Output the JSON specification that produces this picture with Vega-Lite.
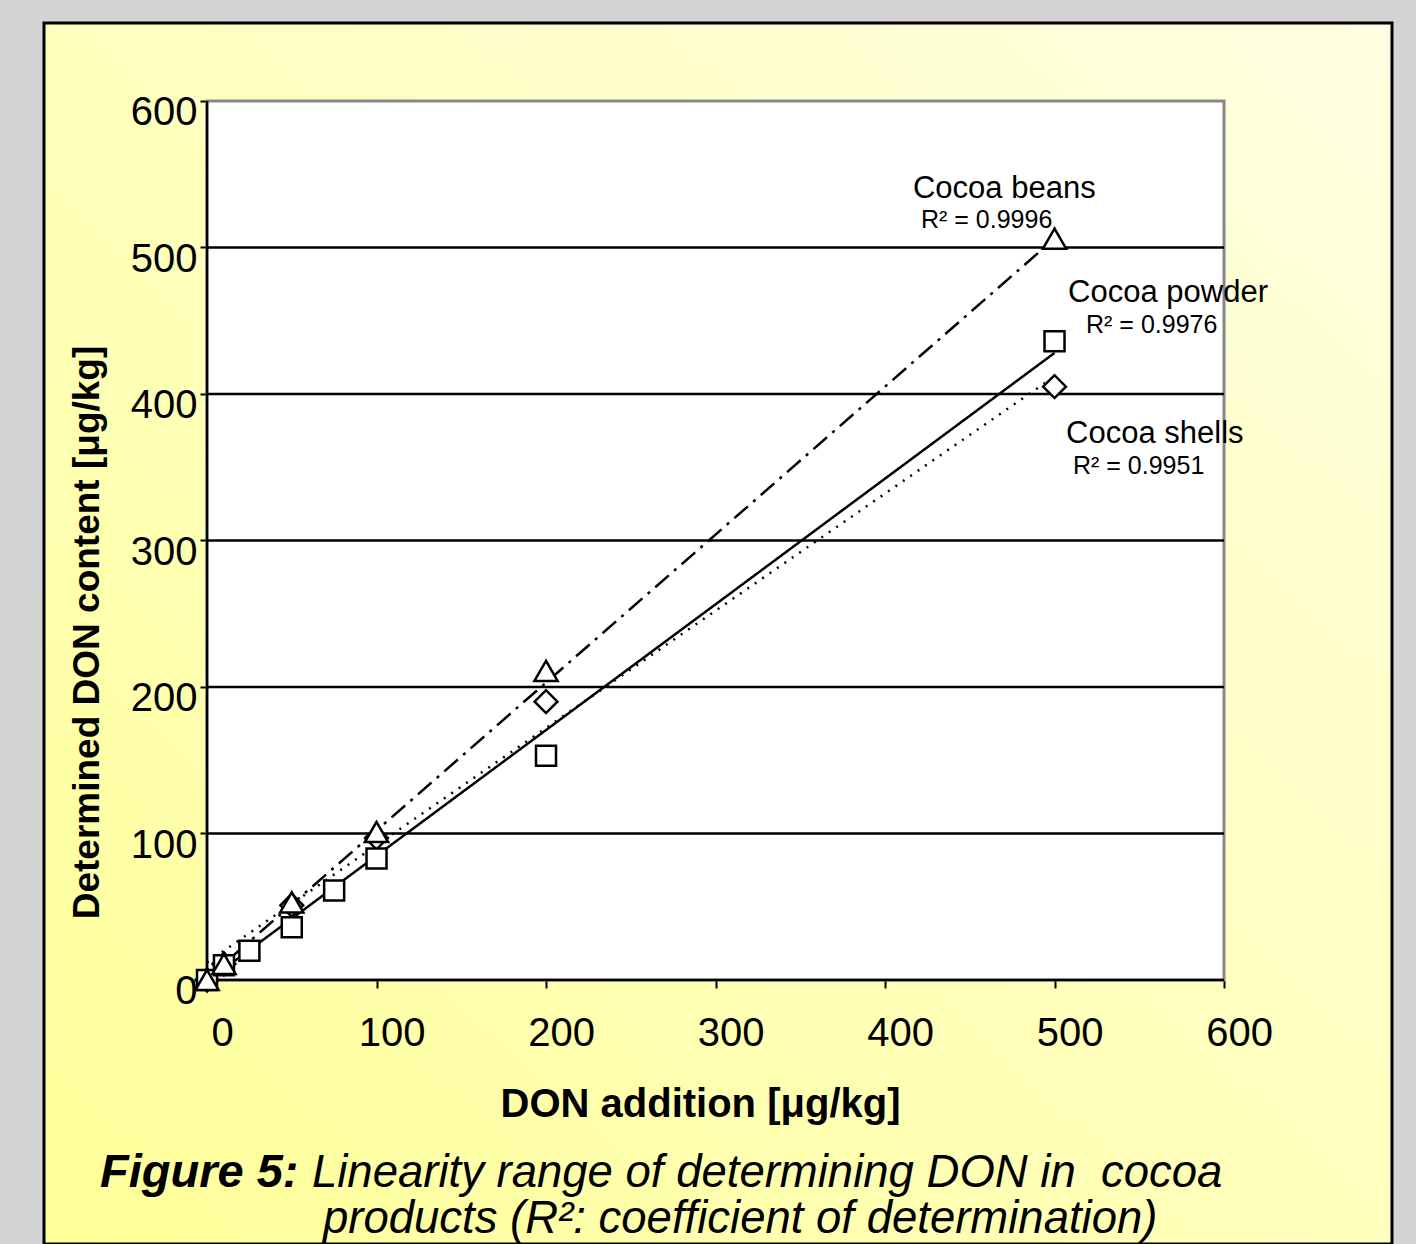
{
  "$schema": "https://vega.github.io/schema/vega-lite/v6.json",
  "width": 1348,
  "height": 1221,
  "autosize": {"type": "none"},
  "padding": {"left": 44, "top": 23, "right": 24, "bottom": 0},
  "background": "#d4d4d4",
  "config": {
    "font": "Liberation Sans",
    "view": {
      "fill": {"gradient": "linear", "x1": 1, "y1": 0, "x2": 0, "y2": 1, "stops": [{"offset": 0, "color": "#ffffe2"}, {"offset": 1, "color": "#ffff99"}]},
      "stroke": "#000000",
      "strokeWidth": 3
    },
    "axisX": {"domain": false, "grid": false, "offset": -264,
      "ticks": true, "tickSize": 8, "tickWidth": 2, "tickColor": "#000000",
      "labelFontSize": 40, "labelColor": "#000000", "labelPadding": 25, "labelOffset": 15, "labelFlush": false, "labelOverlap": false,
      "titleFontSize": 40, "titleFontWeight": "bold", "titleColor": "#000000",
      "titleX": 656, "titleY": 136, "titleBaseline": "alphabetic", "titleAlign": "center"},
    "axisY": {"domain": false, "grid": false, "offset": -163,
      "ticks": true, "tickSize": 7, "tickWidth": 2, "tickColor": "#000000",
      "labelFontSize": 40, "labelColor": "#000000", "labelPadding": 3, "labelOffset": 12, "labelBaseline": "middle", "labelFlush": false, "labelOverlap": false,
      "titleFontSize": 37, "titleFontWeight": "bold", "titleColor": "#000000",
      "titleX": -109, "titleY": 609, "titleAngle": 270, "titleBaseline": "alphabetic", "titleAlign": "center"}
  },
  "datasets": {
    "pts": [
      {"series": "Cocoa shells", "x": 0, "y": 0},
      {"series": "Cocoa shells", "x": 10, "y": 11},
      {"series": "Cocoa shells", "x": 50, "y": 51},
      {"series": "Cocoa shells", "x": 100, "y": 97},
      {"series": "Cocoa shells", "x": 200, "y": 190},
      {"series": "Cocoa shells", "x": 500, "y": 405},
      {"series": "Cocoa powder", "x": 0, "y": 0},
      {"series": "Cocoa powder", "x": 10, "y": 10},
      {"series": "Cocoa powder", "x": 25, "y": 20},
      {"series": "Cocoa powder", "x": 50, "y": 36},
      {"series": "Cocoa powder", "x": 75, "y": 61},
      {"series": "Cocoa powder", "x": 100, "y": 83},
      {"series": "Cocoa powder", "x": 200, "y": 153},
      {"series": "Cocoa powder", "x": 500, "y": 436},
      {"series": "Cocoa beans", "x": 0, "y": 0},
      {"series": "Cocoa beans", "x": 10, "y": 11},
      {"series": "Cocoa beans", "x": 50, "y": 53},
      {"series": "Cocoa beans", "x": 100, "y": 101},
      {"series": "Cocoa beans", "x": 200, "y": 211},
      {"series": "Cocoa beans", "x": 500, "y": 506}
    ],
    "trend": [
      {"series": "Cocoa beans", "x": 0, "y": 1},
      {"series": "Cocoa beans", "x": 500, "y": 506},
      {"series": "Cocoa powder", "x": 0, "y": -1},
      {"series": "Cocoa powder", "x": 500, "y": 428},
      {"series": "Cocoa shells", "x": 0, "y": 12},
      {"series": "Cocoa shells", "x": 500, "y": 412}
    ],
    "grid": [{"g": 100}, {"g": 200}, {"g": 300}, {"g": 400}, {"g": 500}],
    "names": [
      {"label": "Cocoa beans", "x": 416.5, "y": 533.8},
      {"label": "Cocoa powder", "x": 508, "y": 462.8},
      {"label": "Cocoa shells", "x": 506.8, "y": 366.6}
    ],
    "r2": [
      {"label": "R² = 0.9996", "x": 421.2, "y": 513.3},
      {"label": "R² = 0.9976", "x": 518.6, "y": 441.6},
      {"label": "R² = 0.9951", "x": 510.9, "y": 345.4}
    ],
    "capbold": [{"text": "Figure 5:", "x": -63.1, "y": -141.3}],
    "capital": [
      {"text": "Linearity range of determining DON in\u00a0 cocoa", "x": 61.9, "y": -141.3},
      {"text": "products (R²: coefficient of determination)", "x": 68.4, "y": -172.7}
    ]
  },
  "layer": [
    {
      "data": {"values": [{}]},
      "mark": {"type": "rect", "fill": "#ffffff", "stroke": "#888888", "strokeWidth": 3},
      "encoding": {
        "x": {"datum": 0, "type": "quantitative", "scale": {"domain": [-96.17, 699.1], "nice": false, "zero": false}, "title": "DON addition [μg/kg]", "axis": {"values": [0, 100, 200, 300, 400, 500, 600]}},
        "x2": {"datum": 600},
        "y": {"datum": 0, "type": "quantitative", "scale": {"domain": [-180.2, 653.2], "nice": false, "zero": false}, "title": "Determined DON content [μg/kg]", "axis": {"values": [0, 100, 200, 300, 400, 500, 600]}},
        "y2": {"datum": 600}
      }
    },
    {
      "data": {"name": "grid"},
      "mark": {"type": "rule", "color": "#000000", "strokeWidth": 2.5},
      "encoding": {
        "x": {"datum": 0, "type": "quantitative", "scale": {"domain": [-96.17, 699.1], "nice": false, "zero": false}, "title": "DON addition [μg/kg]", "axis": {"values": [0, 100, 200, 300, 400, 500, 600]}},
        "x2": {"datum": 600},
        "y": {"field": "g", "type": "quantitative", "scale": {"domain": [-180.2, 653.2], "nice": false, "zero": false}, "title": "Determined DON content [μg/kg]", "axis": {"values": [0, 100, 200, 300, 400, 500, 600]}}
      }
    },
    {
      "data": {"values": [{}]},
      "mark": {"type": "rule", "color": "#000000", "strokeWidth": 2.5},
      "encoding": {
        "x": {"datum": 0, "type": "quantitative", "scale": {"domain": [-96.17, 699.1], "nice": false, "zero": false}, "title": "DON addition [μg/kg]", "axis": {"values": [0, 100, 200, 300, 400, 500, 600]}},
        "y": {"datum": 0, "type": "quantitative", "scale": {"domain": [-180.2, 653.2], "nice": false, "zero": false}, "title": "Determined DON content [μg/kg]", "axis": {"values": [0, 100, 200, 300, 400, 500, 600]}},
        "y2": {"datum": 600}
      }
    },
    {
      "data": {"values": [{}]},
      "mark": {"type": "rule", "color": "#000000", "strokeWidth": 2.5},
      "encoding": {
        "x": {"datum": 0, "type": "quantitative", "scale": {"domain": [-96.17, 699.1], "nice": false, "zero": false}, "title": "DON addition [μg/kg]", "axis": {"values": [0, 100, 200, 300, 400, 500, 600]}},
        "x2": {"datum": 600},
        "y": {"datum": 0, "type": "quantitative", "scale": {"domain": [-180.2, 653.2], "nice": false, "zero": false}, "title": "Determined DON content [μg/kg]", "axis": {"values": [0, 100, 200, 300, 400, 500, 600]}}
      }
    },
    {
      "data": {"name": "trend"},
      "mark": {"type": "line", "color": "#000000", "strokeWidth": 2.5},
      "encoding": {
        "x": {"field": "x", "type": "quantitative", "scale": {"domain": [-96.17, 699.1], "nice": false, "zero": false}, "title": "DON addition [μg/kg]", "axis": {"values": [0, 100, 200, 300, 400, 500, 600]}},
        "y": {"field": "y", "type": "quantitative", "scale": {"domain": [-180.2, 653.2], "nice": false, "zero": false}, "title": "Determined DON content [μg/kg]", "axis": {"values": [0, 100, 200, 300, 400, 500, 600]}},
        "detail": {"field": "series"},
        "strokeDash": {"field": "series", "type": "nominal", "legend": null,
          "scale": {"domain": ["Cocoa beans", "Cocoa powder", "Cocoa shells"], "range": [[18, 7, 3, 7], [1, 0], [2, 7]]}}
      }
    },
    {
      "data": {"name": "pts"},
      "transform": [{"filter": "datum.series === 'Cocoa shells'"}],
      "mark": {"type": "point", "shape": "diamond", "filled": true, "fill": "#ffffff", "stroke": "#000000", "strokeWidth": 2.5, "opacity": 1, "size": 520},
      "encoding": {
        "x": {"field": "x", "type": "quantitative", "scale": {"domain": [-96.17, 699.1], "nice": false, "zero": false}, "title": "DON addition [μg/kg]", "axis": {"values": [0, 100, 200, 300, 400, 500, 600]}},
        "y": {"field": "y", "type": "quantitative", "scale": {"domain": [-180.2, 653.2], "nice": false, "zero": false}, "title": "Determined DON content [μg/kg]", "axis": {"values": [0, 100, 200, 300, 400, 500, 600]}}
      }
    },
    {
      "data": {"name": "pts"},
      "transform": [{"filter": "datum.series === 'Cocoa powder'"}],
      "mark": {"type": "point", "shape": "square", "filled": true, "fill": "#ffffff", "stroke": "#000000", "strokeWidth": 2.5, "opacity": 1, "size": 400},
      "encoding": {
        "x": {"field": "x", "type": "quantitative", "scale": {"domain": [-96.17, 699.1], "nice": false, "zero": false}, "title": "DON addition [μg/kg]", "axis": {"values": [0, 100, 200, 300, 400, 500, 600]}},
        "y": {"field": "y", "type": "quantitative", "scale": {"domain": [-180.2, 653.2], "nice": false, "zero": false}, "title": "Determined DON content [μg/kg]", "axis": {"values": [0, 100, 200, 300, 400, 500, 600]}}
      }
    },
    {
      "data": {"name": "pts"},
      "transform": [{"filter": "datum.series === 'Cocoa beans'"}],
      "mark": {"type": "point", "shape": "triangle-up", "filled": true, "fill": "#ffffff", "stroke": "#000000", "strokeWidth": 2.5, "opacity": 1, "size": 540},
      "encoding": {
        "x": {"field": "x", "type": "quantitative", "scale": {"domain": [-96.17, 699.1], "nice": false, "zero": false}, "title": "DON addition [μg/kg]", "axis": {"values": [0, 100, 200, 300, 400, 500, 600]}},
        "y": {"field": "y", "type": "quantitative", "scale": {"domain": [-180.2, 653.2], "nice": false, "zero": false}, "title": "Determined DON content [μg/kg]", "axis": {"values": [0, 100, 200, 300, 400, 500, 600]}}
      }
    },
    {
      "data": {"name": "names"},
      "mark": {"type": "text", "align": "left", "baseline": "alphabetic", "fontSize": 31, "color": "#000000"},
      "encoding": {
        "x": {"field": "x", "type": "quantitative", "scale": {"domain": [-96.17, 699.1], "nice": false, "zero": false}, "title": "DON addition [μg/kg]", "axis": {"values": [0, 100, 200, 300, 400, 500, 600]}},
        "y": {"field": "y", "type": "quantitative", "scale": {"domain": [-180.2, 653.2], "nice": false, "zero": false}, "title": "Determined DON content [μg/kg]", "axis": {"values": [0, 100, 200, 300, 400, 500, 600]}},
        "text": {"field": "label"}
      }
    },
    {
      "data": {"name": "r2"},
      "mark": {"type": "text", "align": "left", "baseline": "alphabetic", "fontSize": 25, "color": "#000000"},
      "encoding": {
        "x": {"field": "x", "type": "quantitative", "scale": {"domain": [-96.17, 699.1], "nice": false, "zero": false}, "title": "DON addition [μg/kg]", "axis": {"values": [0, 100, 200, 300, 400, 500, 600]}},
        "y": {"field": "y", "type": "quantitative", "scale": {"domain": [-180.2, 653.2], "nice": false, "zero": false}, "title": "Determined DON content [μg/kg]", "axis": {"values": [0, 100, 200, 300, 400, 500, 600]}},
        "text": {"field": "label"}
      }
    },
    {
      "data": {"name": "capbold"},
      "mark": {"type": "text", "align": "left", "baseline": "alphabetic", "fontSize": 47, "fontWeight": "bold", "fontStyle": "italic", "color": "#000000"},
      "encoding": {
        "x": {"field": "x", "type": "quantitative", "scale": {"domain": [-96.17, 699.1], "nice": false, "zero": false}, "title": "DON addition [μg/kg]", "axis": {"values": [0, 100, 200, 300, 400, 500, 600]}},
        "y": {"field": "y", "type": "quantitative", "scale": {"domain": [-180.2, 653.2], "nice": false, "zero": false}, "title": "Determined DON content [μg/kg]", "axis": {"values": [0, 100, 200, 300, 400, 500, 600]}},
        "text": {"field": "text"}
      }
    },
    {
      "data": {"name": "capital"},
      "mark": {"type": "text", "align": "left", "baseline": "alphabetic", "fontSize": 45.5, "fontStyle": "italic", "color": "#000000"},
      "encoding": {
        "x": {"field": "x", "type": "quantitative", "scale": {"domain": [-96.17, 699.1], "nice": false, "zero": false}, "title": "DON addition [μg/kg]", "axis": {"values": [0, 100, 200, 300, 400, 500, 600]}},
        "y": {"field": "y", "type": "quantitative", "scale": {"domain": [-180.2, 653.2], "nice": false, "zero": false}, "title": "Determined DON content [μg/kg]", "axis": {"values": [0, 100, 200, 300, 400, 500, 600]}},
        "text": {"field": "text"}
      }
    }
  ]
}
